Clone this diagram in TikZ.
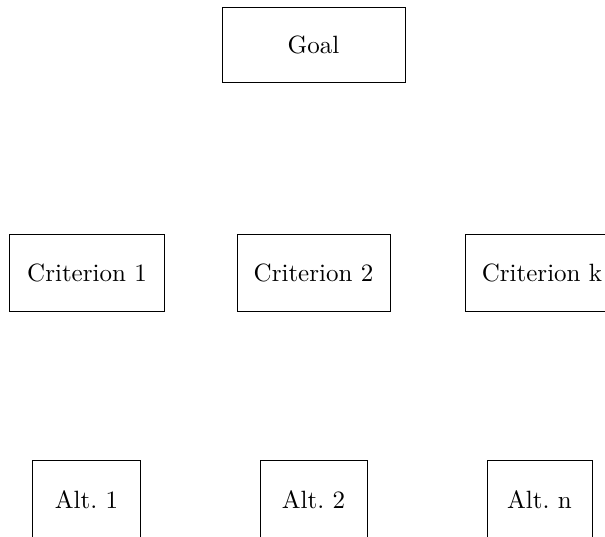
\documentclass[tikz,border=0pt]{standalone}
\begin{document}
\begin{tikzpicture}[x=0.4pt,y=-0.4pt,
  box/.style={draw, line width=0.4pt, inner sep=0pt, minimum height=30.4pt, align=center}]
\useasboundingbox (0,0) rectangle (605,536);
\node[box, minimum width=73.2pt, minimum height=30pt] (goal) at (313.5,44.5) {Goal};
\node[box, minimum width=61.6pt, minimum height=30.8pt] (c1) at (87,272.5) {Criterion 1};
\node[box, minimum width=61.2pt, minimum height=30.8pt] (c2) at (313.5,272.5) {Criterion 2};
\node[box, minimum width=61.6pt, minimum height=30.8pt] (ck) at (542,272.5) {Criterion k};
\node[box, minimum width=42.8pt, minimum height=32pt] (a1) at (86.5,500) {Alt.~1};
\node[box, minimum width=42.8pt, minimum height=32pt] (a2) at (313.5,500) {Alt.~2};
\node[box, minimum width=42pt, minimum height=32pt] (an) at (539.5,500) {Alt.~n};
\end{tikzpicture}
\end{document}
